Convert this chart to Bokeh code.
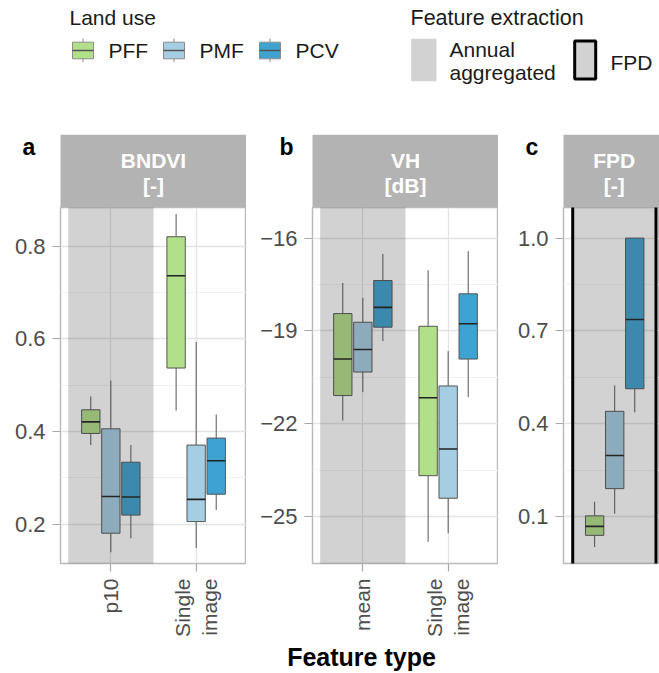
import math
from bokeh.plotting import figure
from bokeh.models import Range1d, FixedTicker, PrintfTickFormatter, ColumnDataSource
from bokeh.layouts import column, row
from bokeh.core.properties import value
from bokeh.embed import file_html
from bokeh.resources import INLINE

# ---------------- data ----------------
land_use = ["PFF", "PMF", "PCV"]
land_colors = ["#b2df8a", "#a6cee3", "#3ea3d1"]

panel_titles = ["BNDVI\n[-]", "VH\n[dB]", "FPD\n[-]"]
panel_letters = ["a", "b", "c"]

# panel a: BNDVI ; order p10 (PFF, PMF, PCV), Single image (PFF, PMF, PCV)
a_types = ["p10", "Single\nimage"]
a_lo = [0.371, 0.140, 0.170, 0.445, 0.149, 0.231]
a_q1 = [0.396, 0.181, 0.220, 0.537, 0.206, 0.265]
a_med = [0.421, 0.260, 0.259, 0.736, 0.254, 0.337]
a_q3 = [0.447, 0.406, 0.334, 0.820, 0.371, 0.386]
a_hi = [0.476, 0.510, 0.371, 0.869, 0.593, 0.437]
a_yticks = [0.2, 0.4, 0.6, 0.8]
a_yminor = [0.3, 0.5, 0.7]

# panel b: VH ; order mean (PFF, PMF, PCV), Single image (PFF, PMF, PCV)
b_types = ["mean", "Single\nimage"]
b_lo = [-21.90, -20.98, -19.33, -25.82, -25.54, -21.14]
b_q1 = [-21.09, -20.33, -18.88, -23.68, -24.41, -19.91]
b_med = [-19.91, -19.60, -18.24, -21.16, -22.82, -18.77]
b_q3 = [-18.44, -18.72, -17.37, -18.85, -20.78, -17.80]
b_hi = [-17.45, -17.93, -16.51, -17.04, -19.65, -16.42]
b_yticks = [-25, -22, -19, -16]
b_yminor = [-23.5, -20.5, -17.5]

# panel c: FPD ; one feature type (PFF, PMF, PCV)
c_types = [""]
c_lo = [0.001, 0.109, 0.437]
c_q1 = [0.039, 0.190, 0.513]
c_med = [0.068, 0.297, 0.737]
c_q3 = [0.102, 0.440, 1.000]
c_hi = [0.148, 0.524, 1.000]
c_yticks = [0.1, 0.4, 0.7, 1.0]
c_yminor = [0.25, 0.55, 0.85]

legend_title_1 = "Land use"
legend_title_2 = "Feature extraction"
extraction_labels = ["Annual\naggregated", "FPD"]
x_title = "Feature type"

# ---------------- style ----------------
FONT = "Liberation Sans"
DODGE = [-0.235, 0.0, 0.235]
BOX_W = 0.215
SHADE = "#333333"
SHADE_ALPHA = 0.22
STRIP = "#b3b3b3"
STRIP_H = 73
PLOT_H = 433
BOTTOM = 77


def blank_fig(w, h):
    p = figure(width=w, height=h, x_range=Range1d(0, w), y_range=Range1d(h, 0),
               toolbar_location=None, output_backend="svg",
               x_axis_type=None, y_axis_type=None, min_border=0,
               outline_line_color=None, background_fill_color="white",
               border_fill_color="white")
    return p


def txt(p, x, y, s, size, bold=False, color="#1a1a1a", align="left"):
    p.text(x=[x], y=[y], text=[s], text_font=value(FONT), text_font_size=size,
           text_font_style="bold" if bold else "normal", text_color=color,
           text_align=align, text_baseline="middle")


def make_strip(width, frame_left, center_x, letter, letter_x, title):
    p = blank_fig(width, STRIP_H)
    p.quad(left=[frame_left], right=[width], top=[0], bottom=[STRIP_H],
           fill_color=STRIP, line_color=None)
    lines = title.split("\n")
    txt(p, center_x, 25.5, lines[0], "21px", bold=True, color="white", align="center")
    txt(p, center_x, 50.5, lines[1], "21px", bold=True, color="white", align="center")
    txt(p, letter_x, 12, letter, "23px", bold=True, color="black")
    return p


def make_panel(width, border_left, xr, yr, yticks, yminor, fmt, types,
               lo, q1, med, q3, hi, shade_x, fpd_box=False):
    p = figure(width=width, height=PLOT_H, x_range=Range1d(*xr), y_range=Range1d(*yr),
               toolbar_location=None, output_backend="svg",
               min_border_left=border_left, min_border_right=0,
               min_border_top=0, min_border_bottom=BOTTOM,
               background_fill_color="white", border_fill_color="white",
               outline_line_color="#bababa", outline_line_width=1.5)
    # axes
    for ax in (p.xaxis[0], p.yaxis[0]):
        ax.axis_line_color = None
        ax.major_tick_line_color = "#a8a8a8"
        ax.major_tick_line_width = 1.2
        ax.major_tick_out = 8
        ax.major_tick_in = 0
        ax.minor_tick_line_color = None
        ax.major_label_text_font = FONT
        ax.major_label_text_font_size = "21px"
        ax.major_label_text_color = "#4d4d4d"
        ax.major_label_standoff = 7
    p.yaxis.major_label_text_font_size = "22px"
    p.yaxis.ticker = FixedTicker(ticks=yticks, minor_ticks=yminor)
    if fmt:
        p.yaxis.formatter = PrintfTickFormatter(format=fmt)
    cats = [i + 1 for i, t in enumerate(types) if t != ""]
    p.xaxis.ticker = FixedTicker(ticks=cats)
    p.xaxis.major_label_overrides = {i + 1: t for i, t in enumerate(types) if t != ""}
    p.xaxis.major_label_orientation = math.pi / 2
    # grid
    p.ygrid.grid_line_color = "#e3e3e3"
    p.ygrid.grid_line_width = 1.3
    p.ygrid.minor_grid_line_color = "#f1f1f1"
    p.ygrid.minor_grid_line_width = 1.0
    p.xgrid.grid_line_color = "#e3e3e3" if cats else None
    p.xgrid.grid_line_width = 1.3
    # boxes
    xs, cols = [], []
    for ci in range(len(types)):
        for g in range(len(land_use)):
            xs.append(ci + 1 + DODGE[g])
            cols.append(land_colors[g])
    src = ColumnDataSource(dict(
        x=xs, lo=lo, q1=q1, med=med, q3=q3, hi=hi, color=cols,
        left=[x - BOX_W / 2 for x in xs], right=[x + BOX_W / 2 for x in xs]))
    p.segment(x0="x", y0="lo", x1="x", y1="q1", source=src, line_color="#555555", line_width=1)
    p.segment(x0="x", y0="q3", x1="x", y1="hi", source=src, line_color="#555555", line_width=1)
    p.vbar(x="x", width=BOX_W, bottom="q1", top="q3", source=src,
           fill_color="color", line_color="#555555", line_width=1)
    p.segment(x0="left", y0="med", x1="right", y1="med", source=src,
              line_color="#222222", line_width=1.6)
    # feature-extraction shading
    span = yr[1] - yr[0]
    if fpd_box:
        p.quad(left=[shade_x[0]], right=[shade_x[1]], bottom=[yr[0] - span], top=[yr[1] + span],
               fill_color=SHADE, fill_alpha=SHADE_ALPHA, line_color="black", line_width=3)
    else:
        p.quad(left=[shade_x[0]], right=[shade_x[1]], bottom=[yr[0] - span], top=[yr[1] + span],
               fill_color=SHADE, fill_alpha=SHADE_ALPHA, line_color=None)
    return p


# ---------------- legend ----------------
leg = blank_fig(659, 134)
txt(leg, 69, 17, legend_title_1, "21px")
key_left = [72, 163, 259]
for i, name in enumerate(land_use):
    kl = key_left[i]
    kc = kl + 10.5
    leg.segment(x0=[kc, kc], y0=[38, 58.3], x1=[kc, kc], y1=[41.7, 61.7], line_color="#8c8c8c", line_width=1)
    leg.quad(left=[kl], right=[kl + 21], top=[41.7], bottom=[58.3], fill_color=land_colors[i],
             line_color="#8c8c8c", line_width=1)
    leg.segment(x0=[kl], y0=[50], x1=[kl + 21], y1=[50], line_color="#555555", line_width=1.3)
    txt(leg, kl + 36, 50, name, "21px")
txt(leg, 410, 17, legend_title_2, "21.5px")
leg.quad(left=[410.7], right=[436], top=[38.3], bottom=[80.7], fill_color=SHADE,
         fill_alpha=SHADE_ALPHA, line_color=None)
ann = extraction_labels[0].split("\n")
txt(leg, 449, 49, ann[0], "21px")
txt(leg, 449, 72, ann[1], "21px")
leg.quad(left=[574.2], right=[595.2], top=[40.5], bottom=[78.5], fill_color=SHADE,
         fill_alpha=SHADE_ALPHA, line_color="black", line_width=3)
txt(leg, 610, 61.5, extraction_labels[1], "21px")

# ---------------- strips ----------------
s_a = make_strip(246, 60, 153, panel_letters[0], 22, panel_titles[0])
s_b = make_strip(252, 66, 159, panel_letters[1], 33, panel_titles[1])
s_c = make_strip(161, 65, 115.7, panel_letters[2], 27, panel_titles[2])

# ---------------- panels ----------------
p_a = make_panel(246, 60, (0.41, 2.59), (0.1157, 0.883), a_yticks, a_yminor, "%.1f", a_types,
                 a_lo, a_q1, a_med, a_q3, a_hi, (0.5, 1.5))
p_b = make_panel(252, 66, (0.41, 2.59), (-26.52, -15.01), b_yticks, b_yminor, None, b_types,
                 b_lo, b_q1, b_med, b_q3, b_hi, (0.5, 1.5))
p_c = make_panel(161, 65, (0.40, 1.525), (-0.052, 1.099), c_yticks, c_yminor, "%.1f", c_types,
                 c_lo, c_q1, c_med, c_q3, c_hi, (0.508, 1.484), fpd_box=True)

# ---------------- x title ----------------
xt_h = 673 - 134 - STRIP_H - PLOT_H
xt = blank_fig(659, xt_h)
txt(xt, 361, 16, x_title, "25px", bold=True, color="black", align="center")

layout = column(leg, row(s_a, s_b, s_c), row(p_a, p_b, p_c), xt)

open("out.html", "w").write(file_html(layout, INLINE))
